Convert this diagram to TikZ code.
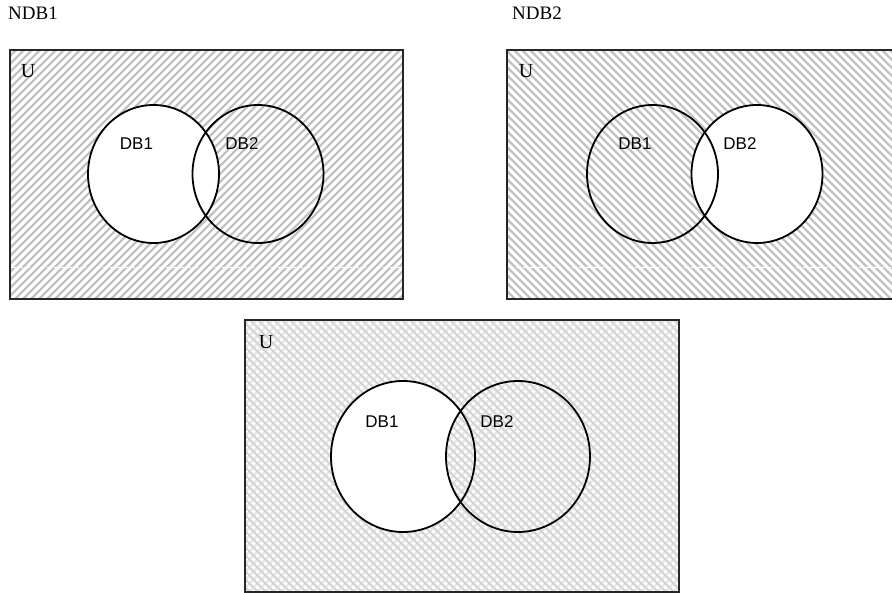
\documentclass[tikz,border=0pt]{standalone}
\usepackage{fontspec}
\setmainfont{Liberation Serif}
\newfontfamily\arialf{Liberation Sans}
\begin{document}
\begin{tikzpicture}[x=1pt,y=-1pt,
  frame/.style={draw=black!85,line width=1.3pt},
  setline/.style={draw=black,line width=1.8pt},
  hatchline/.style={draw=black!24,line width=2.4pt},
  crossnw/.style={draw=black!16,line width=2.3pt},
  crossne/.style={draw=black!10,line width=2.1pt},
  titlelbl/.style={font=\fontsize{19}{19}\selectfont,inner sep=0pt,anchor=base west},
  ulbl/.style={font=\fontsize{20}{20}\selectfont,inner sep=0pt},
  setlbl/.style={font=\arialf\fontsize{17}{17}\selectfont,inner sep=0pt},
  seam/.style={draw=white,line width=0.8pt,dash pattern=on 4pt off 3pt}]
\useasboundingbox (0,0) rectangle (892,593);

% titles
\node[titlelbl] (t1) at (8,20) {NDB1};
\node[titlelbl] (t2) at (512,20) {NDB2};

% ---------- panel 1 : NDB1 ----------
\begin{scope}
  \clip (10,50) rectangle (403,299);
  \foreach \c in {-250,-242,...,410} \draw[hatchline] (\c,300) -- (\c+250,50);
  \draw[seam] (12,267) -- (401,267);
\end{scope}
\fill[white] (153.5,174) ellipse [x radius=65.5, y radius=69];
\draw[setline] (153.5,174) ellipse [x radius=65.5, y radius=69];
\draw[setline] (258,174) ellipse [x radius=65.5, y radius=69];
\draw[frame] (10,50) rectangle (403,299);
\node[ulbl] (u1) at (28,71) {U};
\node[setlbl] (a1) at (136.5,144) {DB1};
\node[setlbl] (b1) at (242,144) {DB2};

% ---------- panel 2 : NDB2 ----------
\begin{scope}
  \clip (507,50) rectangle (897,299);
  \foreach \c in {250,258,...,900} \draw[hatchline] (\c,50) -- (\c+250,300);
  \draw[seam] (509,267) -- (897,267);
\end{scope}
\fill[white] (757,174) ellipse [x radius=65.5, y radius=69];
\draw[setline] (652.5,174) ellipse [x radius=65.5, y radius=69];
\draw[setline] (757,174) ellipse [x radius=65.5, y radius=69];
\draw[frame] (507,50) rectangle (897,299);
\node[ulbl] (u2) at (526,71) {U};
\node[setlbl] (a2) at (635,144) {DB1};
\node[setlbl] (b2) at (740,144) {DB2};

% ---------- panel 3 : union ----------
\begin{scope}
  \clip (245,320) rectangle (679,592);
  \foreach \c in {-40,-32,...,690} \draw[crossne] (\c,593) -- (\c+275,318);
  \foreach \c in {-40,-32,...,690} \draw[crossnw] (\c,318) -- (\c+275,593);
\end{scope}
\fill[white] (403,456.5) ellipse [x radius=72, y radius=75.5];
\begin{scope}
  \clip (403,456.5) ellipse [x radius=72, y radius=75.5];
  \clip (518,456.5) ellipse [x radius=72, y radius=75.5];
  \foreach \c in {-40,-32,...,690} \draw[crossne] (\c,593) -- (\c+275,318);
  \foreach \c in {-40,-32,...,690} \draw[crossnw] (\c,318) -- (\c+275,593);
\end{scope}
\draw[setline] (403,456.5) ellipse [x radius=72, y radius=75.5];
\draw[setline] (518,456.5) ellipse [x radius=72, y radius=75.5];
\draw[frame] (245,320) rectangle (679,592);
\node[ulbl] (u3) at (266,342) {U};
\node[setlbl] (a3) at (382,421.5) {DB1};
\node[setlbl] (b3) at (497,421.5) {DB2};
\end{tikzpicture}
\end{document}
